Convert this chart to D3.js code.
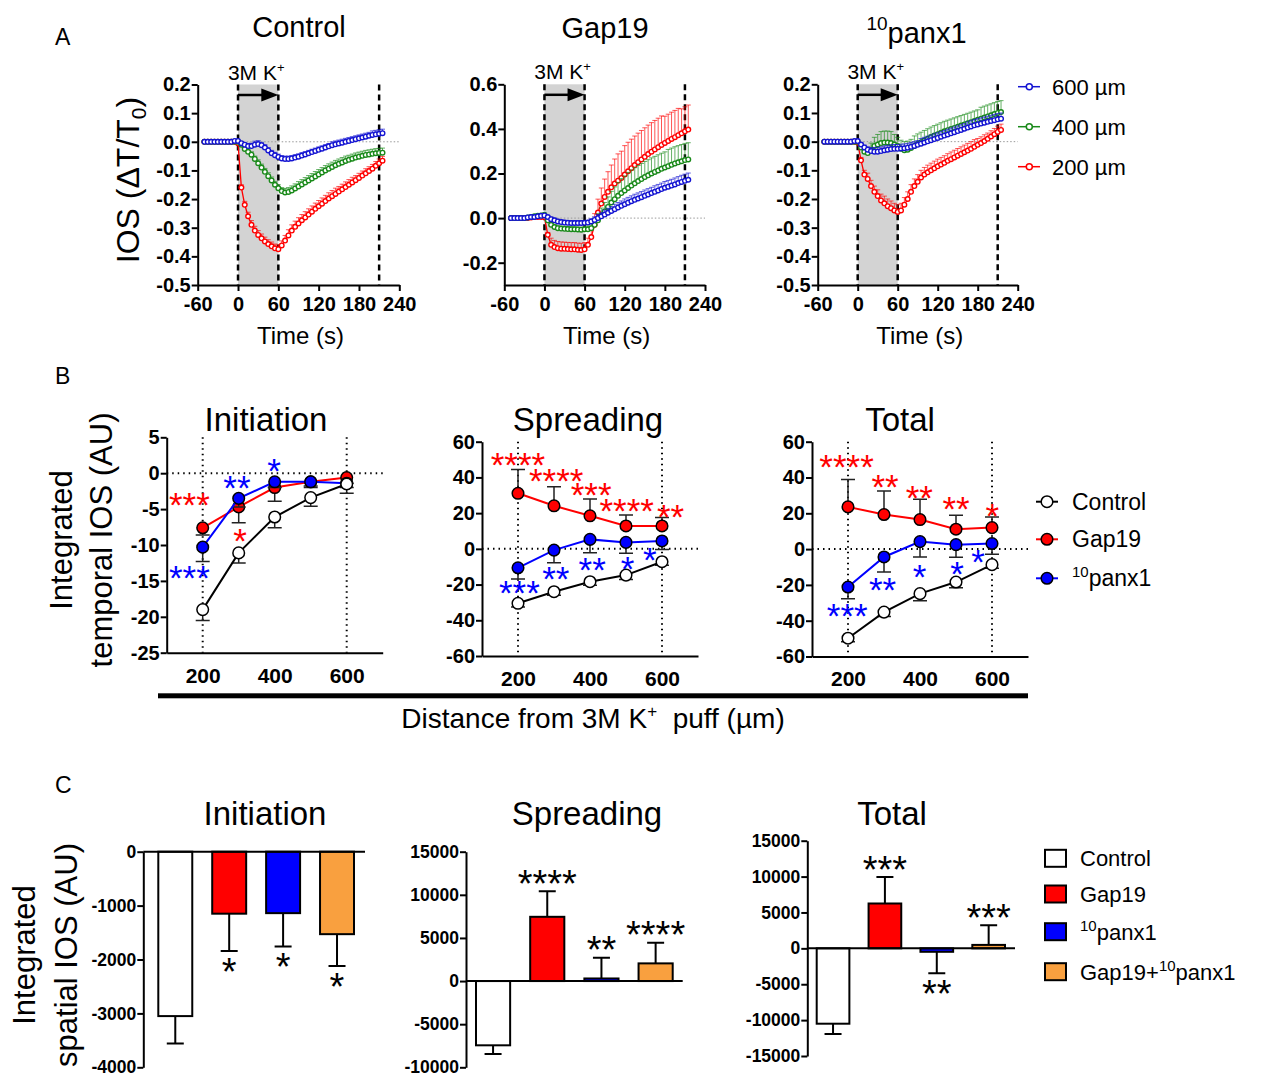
<!DOCTYPE html>
<html>
<head>
<meta charset="utf-8">
<script src="https://cdn.jsdelivr.net/npm/d3@7"></script>
<style>
  body { margin: 0; background: #fff; }
  svg text { font-family: "Liberation Sans", Arial, sans-serif; }
</style>
</head>
<body>
<svg id="fig" width="1264" height="1075"></svg>
<script>
// ---------- A: IOS time courses (sampled every 5 s) ----------
const timePoints = [
  -50,-45,-40,-35,-30,-25,-20,-15,-10,-5,0,
  5,10,15,20,25,30,35,40,45,50,55,60,
  65,70,75,80,85,90,95,100,105,110,115,120,125,130,135,140,145,150,155,160,
  165,170,175,180,185,190,195,200,205,210,215
];

// Control
const ctrl200 = [
  0,0,0,0,0,0,0,0,0,0,-0.005,
  -0.16,-0.22,-0.26,-0.29,-0.31,-0.325,-0.337,-0.348,-0.357,-0.365,-0.372,-0.375,
  -0.362,-0.345,-0.327,-0.31,-0.297,-0.285,-0.274,-0.264,-0.254,-0.244,
  -0.234,-0.225,-0.216,-0.207,-0.198,-0.19,-0.182,-0.174,-0.166,-0.158,
  -0.15,-0.142,-0.134,-0.126,-0.118,-0.11,-0.102,-0.094,-0.084,-0.075,-0.066
];
const ctrl200Err = [
  0,0,0,0,0,0,0,0,0,0,0,
  .01,.012,.014,.015,.015,.015,.015,.015,.015,.015,.015,.015,
  .016,.018,.02,.02,.02,.02,.02,.02,.02,.02,
  .02,.02,.02,.02,.02,.02,.02,.018,.018,.018,
  .018,.018,.016,.016,.016,.016,.015,.015,.015,.015,.015
];
const ctrl400 = [
  0,0,0,0,0,0,0,0,0,0,0,
  -0.01,-0.025,-0.035,-0.045,-0.06,-0.075,-0.09,-0.105,-0.12,-0.135,-0.15,-0.162,
  -0.172,-0.177,-0.175,-0.17,-0.163,-0.156,-0.149,-0.142,-0.135,-0.128,
  -0.121,-0.114,-0.107,-0.1,-0.094,-0.088,-0.082,-0.077,-0.072,-0.067,
  -0.063,-0.059,-0.055,-0.052,-0.049,-0.046,-0.044,-0.042,-0.04,-0.039,-0.038
];
const ctrl400Err = [
  0,0,0,0,0,0,0,0,0,0,0,
  .005,.008,.01,.01,.01,.012,.012,.012,.012,.012,.012,.012,
  .012,.014,.015,.016,.016,.017,.017,.017,.017,.017,
  .017,.017,.017,.017,.017,.017,.017,.017,.017,.017,
  .016,.016,.016,.016,.016,.016,.016,.016,.016,.016,.016
];
const ctrl600 = [
  0,0,0,0,0,0,0,0,0,0.003,0.003,
  -0.005,-0.01,-0.015,-0.015,-0.01,-0.008,-0.012,-0.02,-0.03,-0.04,-0.047,-0.053,
  -0.058,-0.06,-0.06,-0.058,-0.055,-0.052,-0.048,-0.044,-0.04,-0.036,
  -0.032,-0.028,-0.024,-0.02,-0.016,-0.012,-0.009,-0.006,-0.003,0,
  0.003,0.006,0.009,0.012,0.015,0.018,0.021,0.024,0.026,0.028,0.03
];
const ctrl600Err = [
  0,0,0,0,0,0,0,0,0,0,0,
  .005,.006,.008,.01,.012,.012,.01,.01,.01,.01,.01,.01,
  .01,.01,.01,.01,.01,.01,.01,.01,.01,.01,
  .01,.01,.01,.01,.01,.012,.012,.012,.012,.012,
  .012,.012,.012,.012,.012,.012,.012,.014,.014,.014,.014
];

// Gap19
const gap200 = [
  0,0,0,0,0,0,0.003,0.005,0.005,0.005,0.005,
  -0.075,-0.12,-0.13,-0.135,-0.137,-0.138,-0.139,-0.14,-0.14,-0.142,-0.143,-0.14,
  -0.12,-0.085,-0.03,0.025,0.065,0.095,0.118,0.138,0.155,0.168,
  0.18,0.195,0.21,0.224,0.238,0.251,0.263,0.275,0.287,0.298,
  0.308,0.318,0.328,0.337,0.346,0.355,0.363,0.372,0.38,0.389,0.397
];
const gap200Err = [
  0,0,0,0,0,0,.003,.005,.005,.005,.005,
  .01,.03,.03,.03,.03,.03,.03,.03,.03,.03,.03,.03,
  .03,.04,.05,.06,.07,.08,.09,.1,.11,.12,
  .12,.13,.13,.13,.13,.13,.13,.13,.13,.13,
  .13,.13,.13,.12,.12,.12,.12,.12,.11,.11,.11
];
const gap400 = [
  0,0,0,0,0,0.003,0.005,0.008,0.01,0.012,0.015,
  -0.01,-0.03,-0.04,-0.045,-0.047,-0.048,-0.049,-0.05,-0.05,-0.051,-0.052,-0.05,
  -0.05,-0.045,-0.03,-0.01,0.01,0.03,0.05,0.07,0.085,0.1,
  0.112,0.124,0.135,0.146,0.156,0.166,0.175,0.184,0.192,0.2,
  0.207,0.214,0.221,0.227,0.233,0.239,0.245,0.25,0.255,0.26,0.263
];
const gap400Err = [
  0,0,0,0,0,.003,.003,.003,.003,.003,.003,
  .005,.01,.01,.01,.01,.01,.01,.01,.01,.01,.01,.01,
  .015,.02,.025,.03,.035,.04,.045,.05,.055,.06,
  .065,.065,.07,.07,.07,.07,.07,.07,.07,.07,
  .07,.07,.07,.07,.075,.075,.075,.075,.075,.075,.075
];
const gap600 = [
  0,0,0,0,0,0.003,0.005,0.005,0.008,0.01,0.012,
  0.005,-0.005,-0.01,-0.015,-0.018,-0.02,-0.021,-0.022,-0.022,-0.022,-0.022,-0.021,
  -0.02,-0.015,-0.008,0,0.008,0.016,0.024,0.032,0.04,0.048,
  0.055,0.062,0.069,0.076,0.082,0.088,0.094,0.1,0.106,0.112,
  0.118,0.124,0.13,0.136,0.141,0.146,0.151,0.157,0.162,0.167,0.172
];
const gap600Err = [
  0,0,0,0,0,.003,.003,.003,.003,.003,.003,
  .005,.01,.01,.01,.01,.01,.01,.01,.01,.01,.01,.01,
  .01,.012,.014,.016,.018,.02,.02,.02,.022,.022,
  .022,.024,.024,.024,.025,.025,.025,.026,.026,.026,
  .027,.027,.027,.028,.028,.028,.029,.029,.03,.03,.03
];

// 10panx1
const panx200 = [
  0,0,0,0,0,0,0,0,0,0,-0.003,
  -0.065,-0.115,-0.13,-0.155,-0.175,-0.19,-0.205,-0.215,-0.225,-0.232,-0.24,-0.245,
  -0.24,-0.22,-0.2,-0.175,-0.155,-0.14,-0.125,-0.115,-0.107,-0.1,
  -0.093,-0.086,-0.08,-0.074,-0.067,-0.061,-0.055,-0.049,-0.043,-0.037,
  -0.031,-0.025,-0.018,-0.011,-0.005,0.002,0.01,0.018,0.026,0.034,0.041
];
const panx200Err = [
  0,0,0,0,0,0,0,0,0,0,0,
  .01,.015,.02,.02,.02,.022,.022,.025,.025,.025,.025,.025,
  .025,.025,.025,.025,.025,.025,.025,.025,.025,.025,
  .025,.025,.025,.025,.025,.025,.025,.025,.025,.025,
  .025,.025,.025,.022,.022,.022,.02,.02,.02,.02,.02
];
const panx400 = [
  0,0,0,0,0,0,0,0,0,0,0,
  -0.02,-0.035,-0.04,-0.03,-0.015,-0.01,-0.005,-0.003,-0.003,-0.005,-0.01,-0.015,
  -0.025,-0.03,-0.028,-0.022,-0.015,-0.008,-0.002,0.004,0.01,0.016,
  0.021,0.026,0.031,0.036,0.04,0.044,0.048,0.052,0.056,0.06,
  0.064,0.068,0.072,0.076,0.08,0.084,0.088,0.092,0.096,0.1,0.103
];
const panx400Err = [
  0,0,0,0,0,0,0,0,0,0,0,
  .01,.015,.02,.025,.03,.035,.04,.04,.04,.04,.035,.03,
  .03,.03,.03,.03,.035,.035,.035,.035,.035,.035,
  .035,.035,.035,.035,.035,.035,.035,.035,.035,.035,
  .035,.035,.035,.035,.04,.04,.04,.04,.04,.04,.04
];
const panx600 = [
  0,0,0,0,0,0,0,0,0,0.002,0.002,
  -0.01,-0.02,-0.028,-0.033,-0.035,-0.035,-0.033,-0.03,-0.028,-0.026,-0.025,-0.025,
  -0.024,-0.023,-0.021,-0.018,-0.015,-0.011,-0.007,-0.003,0.001,0.005,
  0.009,0.013,0.017,0.021,0.025,0.029,0.033,0.037,0.041,0.045,
  0.049,0.053,0.057,0.06,0.063,0.066,0.069,0.072,0.075,0.078,0.08
];
const panx600Err = [
  0,0,0,0,0,0,0,0,0,0,0,
  .005,.008,.01,.012,.015,.015,.015,.015,.015,.015,.015,.015,
  .015,.015,.015,.015,.015,.015,.018,.018,.018,.018,
  .018,.018,.018,.018,.018,.018,.018,.018,.018,.018,
  .02,.02,.02,.02,.02,.02,.02,.02,.02,.02,.02
];

const stimWindow = [0, 60];
const analysisEnd = 210;
const timeTicks = [-60, 0, 60, 120, 180, 240];

// ---------- B: integrated temporal IOS vs distance ----------
const distances = [200, 300, 400, 500, 600];
const distTicks = [200, 400, 600];

const initControl = [-19.0, -11.1, -6.1, -3.4, -1.5];
const initControlErr = [-1.5, -1.4, -1.5, -1.2, -1.3];
const initGap = [-7.6, -4.7, -2.0, -1.2, -0.6];
const initGapErr = [-1.0, -2.2, -1.9, -0.8, -0.8];
const initPanx = [-10.3, -3.5, -1.2, -1.2, -1.4];
const initPanxErr = [-2.0, -1.2, -0.8, -0.6, -0.6];

const spreadControl = [-30.5, -24.0, -18.4, -14.7, -7.2];
const spreadControlErr = [-2.0, -2.0, -2.0, -2.5, -2.0];
const spreadGap = [31.1, 24.1, 18.5, 12.8, 12.8];
const spreadGapErr = [13.4, 10.7, 9.4, 6.1, 4.8];
const spreadPanx = [-10.6, -0.7, 5.3, 3.6, 4.4];
const spreadPanxErr = [-6.3, -7.1, -7.5, -6.1, -4.7];

const totalControl = [-49.8, -35.2, -24.9, -18.4, -8.7];
const totalControlErr = [-2.0, -2.5, -4.0, -3.2, -2.0];
const totalGap = [23.6, 19.3, 16.5, 11.1, 12.0];
const totalGapErr = [15.3, 13.2, 11.4, 7.8, 6.0];
const totalPanx = [-21.2, -4.4, 4.2, 2.5, 3.1];
const totalPanxErr = [-6.5, -8.4, -8.6, -7.0, -6.0];

// significance marks, anchored in data units [distance, value, label, series]
const initStars = [
  [163, -3.3, "***", "gap"], [163, -13.5, "***", "panx"],
  [295, -0.9, "**", "panx"], [304, -8.3, "*", "gap"], [398, 1.4, "*", "panx"]
];
const spreadStars = [
  [200, 51.4, "****", "gap"], [306, 42.3, "****", "gap"], [403, 34.4, "***", "gap"],
  [502, 25.8, "****", "gap"], [624, 22.1, "**", "gap"],
  [204, -20.3, "***", "panx"], [305, -12.3, "**", "panx"], [406, -7.2, "**", "panx"],
  [504, -6.7, "*", "panx"], [566, -1.6, "*", "panx"]
];
const totalStars = [
  [196, 50.1, "****", "gap"], [303, 38.9, "**", "gap"], [398, 32.9, "**", "gap"],
  [500, 26.9, "**", "gap"], [601, 22.7, "*", "gap"],
  [198, -32.8, "***", "panx"], [296, -18.4, "**", "panx"], [399, -10.9, "*", "panx"],
  [503, -9.6, "*", "panx"], [561, -2.9, "*", "panx"]
];

// ---------- C: integrated spatial IOS ----------
const barGroups = ["Control", "Gap19", "panx1", "Gap19+panx1"];
const spatialInit = [-3050, -1150, -1140, -1530];
const spatialInitErr = [510, 690, 620, 590];
const spatialInitStars = ["", "*", "*", "*"];
const spatialSpread = [-7450, 7450, 300, 2050];
const spatialSpreadErr = [1000, 2950, 2400, 2400];
const spatialSpreadStars = ["", "****", "**", "****"];
const spatialTotal = [-10500, 6250, -480, 480];
const spatialTotalErr = [1450, 3700, 3000, 2750];
const spatialTotalStars = ["", "***", "**", "***"];

// ---------- drawing ----------
const svg = d3.select("#fig");
const TICK_FONT = "'DejaVu Sans', sans-serif";
const TITLE_FONT = "Lato, 'Open Sans', sans-serif";

const colA = { r: "#ff0000", g: "#1a8a1a", b: "#1414d2" };
const colB = { gap: "#ff0000", panx: "#0000ff", control: "#ffffff" };
const barColors = ["#ffffff", "#ff0000", "#0000ff", "#f9a03f"];

function styleAxis(g, size) {
  g.select(".domain").attr("stroke", "#000").attr("stroke-width", 2);
  g.selectAll(".tick line").attr("stroke", "#000").attr("stroke-width", 2);
  g.selectAll(".tick text")
    .attr("fill", "#000")
    .attr("font-family", TICK_FONT)
    .attr("font-weight", "bold")
    .attr("font-size", size);
}

function starText(g, cx, cy, label, color, size) {
  g.append("text")
    .attr("x", cx)
    .attr("y", cy + size * 0.57)
    .attr("text-anchor", "middle")
    .attr("font-size", size)
    .attr("fill", color)
    .text(label);
}

function drawTimePanel(p) {
  const x = d3.scaleLinear().domain([-60, 240]).range([p.x0, p.x1]);
  const y = d3.scaleLinear().domain(p.yDomain).range([p.yBottom, p.yTop]);
  const g = svg.append("g");
  const top = y(p.yDomain[1]), bottom = y(p.yDomain[0]);

  g.append("rect")
    .attr("x", x(stimWindow[0])).attr("y", top)
    .attr("width", x(stimWindow[1]) - x(stimWindow[0]))
    .attr("height", bottom - top)
    .attr("fill", "#d3d3d3");

  g.append("line")
    .attr("x1", x(-60)).attr("x2", x(240))
    .attr("y1", y(0)).attr("y2", y(0))
    .attr("stroke", "#999").attr("stroke-width", 1)
    .attr("stroke-dasharray", "1.5,2");

  [stimWindow[0], stimWindow[1], analysisEnd].forEach(t => {
    g.append("line")
      .attr("x1", x(t)).attr("x2", x(t))
      .attr("y1", top).attr("y2", bottom)
      .attr("stroke", "#000").attr("stroke-width", 2.5)
      .attr("stroke-dasharray", "6,4");
  });

  // arrow over the stimulation window
  const ay = top + 10.5;
  g.append("line")
    .attr("x1", x(stimWindow[0])).attr("x2", x(stimWindow[1]) - 14)
    .attr("y1", ay).attr("y2", ay)
    .attr("stroke", "#000").attr("stroke-width", 2.5);
  g.append("path")
    .attr("d", `M${x(stimWindow[1])},${ay}L${x(stimWindow[1]) - 17},${ay - 6.5}L${x(stimWindow[1]) - 17},${ay + 6.5}Z`)
    .attr("fill", "#000");

  const kLabel = g.append("text")
    .attr("x", x(30) - 2).attr("y", top - 5)
    .attr("text-anchor", "middle")
    .attr("font-size", 21);
  kLabel.append("tspan").text("3M K");
  kLabel.append("tspan").attr("font-size", 13).attr("dy", -8).text("+");

  // series: red, green, blue (blue on top)
  p.series.forEach(s => {
    const pts = timePoints.map((t, i) => ({ t, v: s.values[i], e: s.errors[i] }));
    g.append("g").selectAll("path")
      .data(pts.filter(d => d.e > 0))
      .join("path")
      .attr("d", d => `M${x(d.t)},${y(d.v)}V${y(d.v + d.e)}M${x(d.t) - 2.5},${y(d.v + d.e)}H${x(d.t) + 2.5}`)
      .attr("stroke", s.color).attr("stroke-width", 0.9)
      .attr("fill", "none").attr("opacity", 0.75);
    g.append("path")
      .datum(pts)
      .attr("d", d3.line().x(d => x(d.t)).y(d => y(d.v)))
      .attr("fill", "none").attr("stroke", s.color).attr("stroke-width", 1.3);
    g.append("g").selectAll("circle")
      .data(pts)
      .join("circle")
      .attr("cx", d => x(d.t)).attr("cy", d => y(d.v))
      .attr("r", 2.3)
      .attr("fill", "#fff").attr("stroke", s.color).attr("stroke-width", 1.4);
  });

  const ya = g.append("g")
    .attr("transform", `translate(${p.x0},0)`)
    .call(d3.axisLeft(y).tickValues(p.yTicks).tickFormat(d => d.toFixed(1)).tickSize(6).tickPadding(1).tickSizeOuter(0));
  styleAxis(ya, 20);
  const xa = g.append("g")
    .attr("transform", `translate(0,${bottom})`)
    .call(d3.axisBottom(x).tickValues(timeTicks).tickFormat(d => String(d)).tickSize(6).tickPadding(6).tickSizeOuter(0));
  styleAxis(xa, 20);

  g.append("text")
    .attr("x", (p.x0 + p.x1) / 2 + 2).attr("y", bottom + 59)
    .attr("text-anchor", "middle").attr("font-size", 24)
    .text("Time (s)");

  const title = g.append("text")
    .attr("x", p.titleX).attr("y", p.titleY)
    .attr("text-anchor", "middle").attr("font-size", 29);
  if (p.titleSup) {
    title.append("tspan").attr("font-size", 19).attr("dy", -13).text(p.titleSup);
    title.append("tspan").attr("dy", 13).text(p.title);
  } else {
    title.text(p.title);
  }
}

const timeSeries = (r, g, b) => [
  { values: r[0], errors: r[1], color: colA.r },
  { values: g[0], errors: g[1], color: colA.g },
  { values: b[0], errors: b[1], color: colA.b }
];

drawTimePanel({
  x0: 197.7, x1: 399.3, yTop: 84.5, yBottom: 285, yDomain: [-0.5, 0.2],
  yTicks: [0.2, 0.1, 0, -0.1, -0.2, -0.3, -0.4, -0.5],
  title: "Control", titleX: 299, titleY: 37,
  series: timeSeries([ctrl200, ctrl200Err], [ctrl400, ctrl400Err], [ctrl600, ctrl600Err])
});
drawTimePanel({
  x0: 504.3, x1: 705, yTop: 84.3, yBottom: 285, yDomain: [-0.3, 0.6],
  yTicks: [0.6, 0.4, 0.2, 0, -0.2],
  title: "Gap19", titleX: 605, titleY: 38,
  series: timeSeries([gap200, gap200Err], [gap400, gap400Err], [gap600, gap600Err])
});
drawTimePanel({
  x0: 817.7, x1: 1017.7, yTop: 84.3, yBottom: 285, yDomain: [-0.5, 0.2],
  yTicks: [0.2, 0.1, 0, -0.1, -0.2, -0.3, -0.4, -0.5],
  title: "panx1", titleSup: "10", titleX: 916.5, titleY: 43,
  series: timeSeries([panx200, panx200Err], [panx400, panx400Err], [panx600, panx600Err])
});

// A y label
const aLab = svg.append("text")
  .attr("transform", "translate(139,180) rotate(-90)")
  .attr("text-anchor", "middle").attr("font-size", 32);
aLab.append("tspan").text("IOS (ΔT/T");
aLab.append("tspan").attr("font-size", 21).attr("dy", 7).text("0");
aLab.append("tspan").attr("dy", -7).text(")");

// A legend
const legendA = [["600 µm", colA.b], ["400 µm", colA.g], ["200 µm", colA.r]];
legendA.forEach(([label, c], i) => {
  const cy = 86.7 + i * 40;
  svg.append("line").attr("x1", 1018).attr("x2", 1040).attr("y1", cy).attr("y2", cy)
    .attr("stroke", c).attr("stroke-width", 1.5);
  svg.append("circle").attr("cx", 1029.3).attr("cy", cy).attr("r", 3)
    .attr("fill", "#fff").attr("stroke", c).attr("stroke-width", 1.5);
  svg.append("text").attr("x", 1052).attr("y", cy + 8).attr("font-size", 22).text(label);
});

// ---------- B ----------
function drawDistPanel(p) {
  const x = d3.scaleLinear().domain([100, 700]).range([p.x0, p.x0 + 216]);
  const y = d3.scaleLinear().domain(p.yDomain).range([p.yBottom, p.yTop]);
  const g = svg.append("g");

  const dot = sel => sel.attr("stroke", "#000").attr("stroke-width", 2).attr("stroke-dasharray", "1.5,4");
  g.append("line").attr("x1", x(100)).attr("x2", x(700)).attr("y1", y(0)).attr("y2", y(0)).call(dot);
  [200, 600].forEach(d => {
    g.append("line").attr("x1", x(d)).attr("x2", x(d))
      .attr("y1", p.yTop).attr("y2", p.yBottom).call(dot);
  });

  const ya = g.append("g").attr("transform", `translate(${p.x0},0)`)
    .call(d3.axisLeft(y).tickValues(p.yTicks).tickFormat(d => String(d)).tickSize(6).tickPadding(1).tickSizeOuter(0));
  styleAxis(ya, 20);
  const xa = g.append("g").attr("transform", `translate(0,${p.yBottom})`)
    .call(d3.axisBottom(x).tickValues(distTicks).tickFormat(d => String(d)).tickSize(0).tickPadding(15).tickSizeOuter(0));
  styleAxis(xa, 21);

  p.series.forEach(s => {
    const pts = distances.map((d, i) => ({ d, v: s.values[i], e: s.errors[i] }));
    g.append("g").selectAll("path").data(pts).join("path")
      .attr("d", d => `M${x(d.d)},${y(d.v)}V${y(d.v + d.e)}M${x(d.d) - 7},${y(d.v + d.e)}H${x(d.d) + 7}`)
      .attr("stroke", "#222").attr("stroke-width", 1.5).attr("fill", "none");
    g.append("path").datum(pts)
      .attr("d", d3.line().x(d => x(d.d)).y(d => y(d.v)))
      .attr("fill", "none").attr("stroke", s.line).attr("stroke-width", 2);
    g.append("g").selectAll("circle").data(pts).join("circle")
      .attr("cx", d => x(d.d)).attr("cy", d => y(d.v)).attr("r", 5.8)
      .attr("fill", s.fill).attr("stroke", "#000").attr("stroke-width", 1.5);
  });

  p.stars.forEach(([d, v, label, key]) => {
    starText(g, x(d), y(v), label, colB[key], 35);
  });

  g.append("text").attr("x", p.titleX).attr("y", 431)
    .attr("text-anchor", "middle").attr("font-family", TITLE_FONT).attr("font-size", 33)
    .text(p.title);
}

const distSeries = (gap, panx, ctrl) => [
  { values: gap[0], errors: gap[1], fill: colB.gap, line: colB.gap },
  { values: panx[0], errors: panx[1], fill: colB.panx, line: colB.panx },
  { values: ctrl[0], errors: ctrl[1], fill: colB.control, line: "#000" }
];

drawDistPanel({
  x0: 166.7, yTop: 437.3, yBottom: 652.7, yDomain: [-25, 5],
  yTicks: [5, 0, -5, -10, -15, -20, -25], title: "Initiation", titleX: 266,
  series: distSeries([initGap, initGapErr], [initPanx, initPanxErr], [initControl, initControlErr]),
  stars: initStars
});
drawDistPanel({
  x0: 482, yTop: 441.7, yBottom: 656, yDomain: [-60, 60],
  yTicks: [60, 40, 20, 0, -20, -40, -60], title: "Spreading", titleX: 588,
  series: distSeries([spreadGap, spreadGapErr], [spreadPanx, spreadPanxErr], [spreadControl, spreadControlErr]),
  stars: spreadStars
});
drawDistPanel({
  x0: 812, yTop: 441.7, yBottom: 656.5, yDomain: [-60, 60],
  yTicks: [60, 40, 20, 0, -20, -40, -60], title: "Total", titleX: 900,
  series: distSeries([totalGap, totalGapErr], [totalPanx, totalPanxErr], [totalControl, totalControlErr]),
  stars: totalStars
});

// B y label
svg.append("text").attr("transform", "translate(72,540) rotate(-90)")
  .attr("text-anchor", "middle").attr("font-size", 31).text("Integrated");
svg.append("text").attr("transform", "translate(112,540) rotate(-90)")
  .attr("text-anchor", "middle").attr("font-size", 31).text("temporal IOS (AU)");

// B legend
const legendB = [["Control", colB.control, "#000", null], ["Gap19", colB.gap, colB.gap, null], ["panx1", colB.panx, colB.panx, "10"]];
legendB.forEach(([label, fill, line, sup], i) => {
  const cy = [501.7, 539.3, 578.3][i];
  svg.append("line").attr("x1", 1036).attr("x2", 1058).attr("y1", cy).attr("y2", cy)
    .attr("stroke", line).attr("stroke-width", 2);
  svg.append("circle").attr("cx", 1047).attr("cy", cy).attr("r", 5.8)
    .attr("fill", fill).attr("stroke", "#000").attr("stroke-width", 1.5);
  const t = svg.append("text").attr("x", 1072).attr("y", cy + 8).attr("font-size", 23);
  if (sup) {
    t.append("tspan").attr("font-size", 15).attr("dy", -9).text(sup);
    t.append("tspan").attr("dy", 9).text(label);
  } else t.text(label);
});

// distance bar and label
svg.append("rect").attr("x", 158).attr("y", 693.3).attr("width", 870).attr("height", 5).attr("fill", "#000");
const dLab = svg.append("text").attr("x", 593).attr("y", 728)
  .attr("text-anchor", "middle").attr("font-size", 28);
dLab.append("tspan").text("Distance from 3M K");
dLab.append("tspan").attr("font-size", 17).attr("dy", -11).text("+");
dLab.append("tspan").attr("dy", 11).text("\u00a0 puff (µm)");

// ---------- C ----------
function drawBarPanel(p) {
  const y = d3.scaleLinear().domain(p.yDomain).range([p.yBottom, p.yTop]);
  const x = d3.scaleBand().domain(barGroups).range([p.bandStart, p.bandEnd]).paddingInner(0.37).paddingOuter(0);
  const g = svg.append("g");

  const ya = g.append("g").attr("transform", `translate(${p.x0},0)`)
    .call(d3.axisLeft(y).tickValues(p.yTicks).tickFormat(d => String(d)).tickSize(6).tickPadding(1).tickSizeOuter(0));
  styleAxis(ya, 17.5);

  const rows = barGroups.map((k, i) => ({ k, v: p.values[i], e: p.errors[i], s: p.stars[i], c: barColors[i] }));
  // error bars away from zero
  g.append("g").selectAll("path").data(rows).join("path")
    .attr("d", d => {
      const cx = x(d.k) + x.bandwidth() / 2, end = y(d.v + Math.sign(d.v) * d.e);
      return `M${cx},${y(d.v)}V${end}M${cx - 8.5},${end}H${cx + 8.5}`;
    })
    .attr("stroke", "#000").attr("stroke-width", 2).attr("fill", "none");
  g.append("g").selectAll("rect").data(rows).join("rect")
    .attr("x", d => x(d.k)).attr("width", x.bandwidth())
    .attr("y", d => Math.min(y(0), y(d.v)))
    .attr("height", d => Math.abs(y(d.v) - y(0)))
    .attr("fill", d => d.c).attr("stroke", "#000").attr("stroke-width", 2);

  g.append("line").attr("x1", p.x0).attr("x2", p.x1).attr("y1", y(0)).attr("y2", y(0))
    .attr("stroke", "#000").attr("stroke-width", 2);

  rows.filter(d => d.s).forEach(d => {
    const end = y(d.v + Math.sign(d.v) * d.e);
    const cy = d.v > 0 ? end - 16 : end + 12;
    starText(g, x(d.k) + x.bandwidth() / 2, cy, d.s, "#000", 38);
  });

  g.append("text").attr("x", p.titleX).attr("y", 825)
    .attr("text-anchor", "middle").attr("font-family", TITLE_FONT).attr("font-size", 33)
    .text(p.title);
}

drawBarPanel({
  x0: 143.3, x1: 365, bandStart: 158.3, bandEnd: 354,
  yDomain: [-4000, 0], yTop: 851.7, yBottom: 1067.3, yTicks: [0, -1000, -2000, -3000, -4000],
  values: spatialInit, errors: spatialInitErr, stars: spatialInitStars, title: "Initiation", titleX: 265
});
drawBarPanel({
  x0: 466, x1: 682.7, bandStart: 476, bandEnd: 672.7,
  yDomain: [-10000, 15000], yTop: 851.7, yBottom: 1067.3, yTicks: [15000, 10000, 5000, 0, -5000, -10000],
  values: spatialSpread, errors: spatialSpreadErr, stars: spatialSpreadStars, title: "Spreading", titleX: 587
});
drawBarPanel({
  x0: 807.3, x1: 1015, bandStart: 816.7, bandEnd: 1005,
  yDomain: [-15000, 15000], yTop: 840.7, yBottom: 1056, yTicks: [15000, 10000, 5000, 0, -5000, -10000, -15000],
  values: spatialTotal, errors: spatialTotalErr, stars: spatialTotalStars, title: "Total", titleX: 892
});

// C y label
svg.append("text").attr("transform", "translate(35,955) rotate(-90)")
  .attr("text-anchor", "middle").attr("font-size", 31).text("Integrated");
svg.append("text").attr("transform", "translate(77,955) rotate(-90)")
  .attr("text-anchor", "middle").attr("font-size", 31).text("spatial IOS (AU)");

// C legend
legendC = ["Control", "Gap19", "panx1", "Gap19+panx1"];
legendC.forEach((label, i) => {
  const cy = [858.3, 894, 931.7, 971.7][i];
  svg.append("rect").attr("x", 1045).attr("y", cy - 8.5).attr("width", 21).attr("height", 17)
    .attr("fill", barColors[i]).attr("stroke", "#000").attr("stroke-width", 2);
  const t = svg.append("text").attr("x", 1080).attr("y", cy + 8).attr("font-size", 22);
  if (i < 2) t.text(label);
  else {
    if (i === 3) t.append("tspan").text("Gap19+");
    t.append("tspan").attr("font-size", 15).attr("dy", -9).text("10");
    t.append("tspan").attr("dy", 9).text("panx1");
  }
});

// panel letters
[["A", 45], ["B", 384], ["C", 793]].forEach(([l, yy]) => {
  svg.append("text").attr("x", 55).attr("y", yy).attr("font-size", 23).text(l);
});
</script>
</body>
</html>
